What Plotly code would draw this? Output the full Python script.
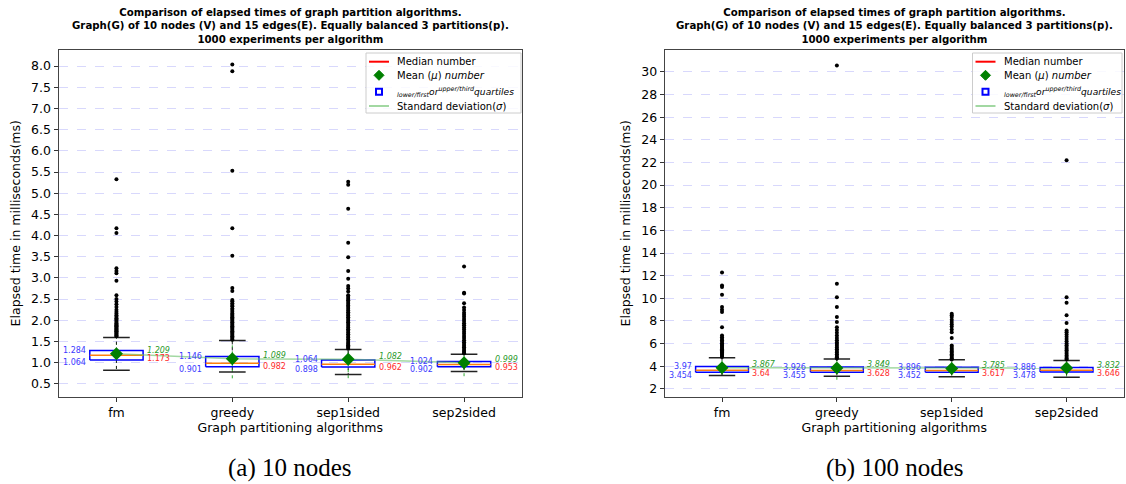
import plotly.graph_objects as go

algorithms = ["fm", "greedy", "sep1sided", "sep2sided"]
positions = [1, 2, 3, 4]

# ---------------- 10 nodes ----------------
q1_10 = [1.064, 0.901, 0.898, 0.902]
med_10 = [1.173, 0.982, 0.962, 0.953]
q3_10 = [1.284, 1.146, 1.064, 1.024]
mean_10 = [1.209, 1.089, 1.082, 0.999]
std_10 = [0.36, 0.46, 0.45, 0.32]
wlo_10 = [0.82, 0.78, 0.72, 0.79]
whi_10 = [1.59, 1.52, 1.31, 1.20]
out_fm_10 = [5.33, 4.17, 4.06, 3.23, 3.16, 3.11, 2.93, 2.59, 2.50, 2.44, 2.38, 2.31, 2.25,
             2.20, 2.16, 2.12, 2.08, 2.05, 2.02, 1.99, 1.96, 1.93, 1.90, 1.88, 1.86, 1.84,
             1.82, 1.80, 1.78, 1.76, 1.74, 1.72, 1.70, 1.68, 1.66, 1.64, 1.62]
out_greedy_10 = [8.04, 7.88, 5.53, 4.17, 3.52, 2.76, 2.69, 2.48, 2.45, 2.40, 2.36, 2.33,
                 2.28, 2.24, 2.20, 2.16, 2.13, 2.10, 2.07, 2.04, 2.01, 1.98, 1.95, 1.92,
                 1.89, 1.86, 1.83, 1.80, 1.77, 1.74, 1.71, 1.68, 1.65, 1.62, 1.59, 1.56, 1.54]
out_sep1_10 = [5.27, 5.20, 4.63, 3.83, 3.49, 3.16, 2.98, 2.81, 2.75, 2.68, 2.59, 2.55, 2.51,
               2.47, 2.43, 2.39, 2.35, 2.31, 2.27, 2.23, 2.19, 2.15, 2.11, 2.07, 2.03, 1.99,
               1.95, 1.91, 1.87, 1.83, 1.79, 1.75, 1.71, 1.67, 1.63, 1.59, 1.55, 1.51, 1.47,
               1.44, 1.41, 1.38, 1.35, 1.33]
out_sep2_10 = [3.27, 2.65, 2.63, 2.40, 2.30, 2.24, 2.18, 2.13, 2.08, 2.03, 1.98, 1.93, 1.88,
               1.83, 1.78, 1.73, 1.68, 1.63, 1.58, 1.53, 1.48, 1.44, 1.40, 1.36, 1.32, 1.28,
               1.25, 1.22]
outliers_10 = [out_fm_10, out_greedy_10, out_sep1_10, out_sep2_10]

# ---------------- 100 nodes ----------------
q1_100 = [3.454, 3.455, 3.452, 3.478]
med_100 = [3.64, 3.628, 3.617, 3.646]
q3_100 = [3.97, 3.926, 3.896, 3.886]
mean_100 = [3.867, 3.849, 3.785, 3.832]
std_100 = [0.65, 1.05, 0.6, 0.75]
wlo_100 = [3.18, 3.12, 3.06, 3.03]
whi_100 = [4.75, 4.63, 4.56, 4.50]
out_fm_100 = [12.27, 11.14, 10.99, 10.32, 9.22, 8.99, 8.78, 7.45, 6.72, 6.55, 6.40, 6.28,
              6.15, 6.02, 5.90, 5.80, 5.70, 5.60, 5.50, 5.40, 5.30, 5.20, 5.10, 5.00, 4.90, 4.80]
out_greedy_100 = [30.58, 11.29, 10.10, 9.22, 8.34, 7.90, 7.45, 7.20, 6.95, 6.70, 6.50, 6.30,
                  6.10, 5.95, 5.80, 5.65, 5.50, 5.35, 5.20, 5.05, 4.90, 4.78, 4.68]
out_sep1_100 = [8.64, 8.50, 8.34, 8.10, 7.90, 7.70, 7.51, 7.25, 7.00, 6.48, 5.83, 5.70, 5.55,
                5.42, 5.30, 5.18, 5.06, 4.94, 4.82, 4.70, 4.60]
out_sep2_100 = [22.2, 10.10, 9.60, 8.49, 7.81, 7.16, 7.00, 6.80, 6.60, 6.40, 6.20, 6.00, 5.85,
                5.70, 5.55, 5.40, 5.25, 5.10, 4.95, 4.80, 4.68, 4.58]
outliers_100 = [out_fm_100, out_greedy_100, out_sep1_100, out_sep2_100]

title_text = ("<b>Comparison of elapsed times of graph partition algorithms.<br>"
              "Graph(G) of 10 nodes (V) and 15 edges(E). Equally balanced 3 partitions(p).<br>"
              "1000 experiments per algorithm</b>")
captions = ["(a) 10 nodes", "(b) 100 nodes"]
legend_labels = ["Median number",
                 "Mean (<i>μ</i>) <i>number</i>",
                 "<sub><i>lower/first</i></sub><i>or</i><sup><i>upper/third</i></sup><i>quartiles</i>",
                 "Standard deviation(<i>σ</i>)"]
legend_sizes = [10, 10, 9.1, 10]

BOX_W = 0.46
FONT = "DejaVu Sans"
BLUE = "#0000ff"
ORANGE = "#ff7f0e"
GREEN = "#008000"
LGREEN = "rgba(100,190,100,0.6)"

W, H = 1126, 484
dom_x = [[58.5 / W, 522 / W], [664.6 / W, 1124 / W]]
dom_y = [1 - 396.5 / H, 1 - 50 / H]

fig = go.Figure()
annotations = []
shapes = []


def px(x):
    return x / W


def py(y):
    return 1 - y / H


def seg_xy(xs0, xs1, ys0, ys1):
    X, Y = [], []
    for a, b, c, d in zip(xs0, xs1, ys0, ys1):
        X += [a, b, None]
        Y += [c, d, None]
    return X, Y


def draw(k, q1, med, q3, mean, std, wlo, whi, outs):
    xa = "x" if k == 0 else "x2"
    ya = "y" if k == 0 else "y2"
    common = dict(xaxis=xa, yaxis=ya, showlegend=False, hoverinfo="skip")
    hw = BOX_W / 2
    cw = BOX_W / 4
    # std dotted green vertical
    X, Y = seg_xy(positions, positions, [m - s for m, s in zip(mean, std)],
                  [m + s for m, s in zip(mean, std)])
    fig.add_trace(go.Scatter(x=X, y=Y, mode="lines",
                             line=dict(color="rgba(0,150,0,0.8)", width=1, dash="dot"), **common))
    # whiskers
    X1, Y1 = seg_xy(positions, positions, q3, whi)
    X2, Y2 = seg_xy(positions, positions, q1, wlo)
    fig.add_trace(go.Scatter(x=X1 + X2, y=Y1 + Y2, mode="lines",
                             line=dict(color="#222222", width=1, dash="dot"), **common))
    # caps
    X1, Y1 = seg_xy([p - cw for p in positions], [p + cw for p in positions], whi, whi)
    X2, Y2 = seg_xy([p - cw for p in positions], [p + cw for p in positions], wlo, wlo)
    fig.add_trace(go.Scatter(x=X1 + X2, y=Y1 + Y2, mode="lines",
                             line=dict(color="#222222", width=1.5), **common))
    # boxes
    X, Y = [], []
    for p, a, b in zip(positions, q1, q3):
        X += [p - hw, p + hw, p + hw, p - hw, p - hw, None]
        Y += [a, a, b, b, a, None]
    fig.add_trace(go.Scatter(x=X, y=Y, mode="lines", line=dict(color=BLUE, width=1.5), **common))
    # medians
    X, Y = seg_xy([p - hw for p in positions], [p + hw for p in positions], med, med)
    fig.add_trace(go.Scatter(x=X, y=Y, mode="lines", line=dict(color=ORANGE, width=1.5), **common))
    # mean line
    fig.add_trace(go.Scatter(x=positions, y=mean, mode="lines", line=dict(color=LGREEN, width=1.5),
                             **common))
    # means
    fig.add_trace(go.Scatter(x=positions, y=mean, mode="markers",
                             marker=dict(symbol="diamond", color=GREEN, size=10), **common))
    # outliers
    OX, OY = [], []
    for p, o in zip(positions, outs):
        OX += [p] * len(o)
        OY += o
    fig.add_trace(go.Scatter(x=OX, y=OY, mode="markers",
                             marker=dict(color="black", size=4), **common))
    # value labels
    base = dict(xref=xa, yref=ya, showarrow=False)
    for p, a, m, b, mu in zip(positions, q1, med, q3, mean):
        annotations.append(dict(base, x=p - hw, y=b, text=str(b), xanchor="right", xshift=-2,
                                font=dict(family=FONT, size=8, color="#3a3aff")))
        annotations.append(dict(base, x=p - hw, y=a, text=str(a), xanchor="right", xshift=-2,
                                yshift=-3, font=dict(family=FONT, size=8, color="#3a3aff")))
        annotations.append(dict(base, x=p + hw, y=mu, text="<i>" + str(mu) + "</i>",
                                xanchor="left", xshift=2, yshift=3,
                                font=dict(family=FONT, size=8, color="#2a9a2a")))
        annotations.append(dict(base, x=p + hw, y=m, text=str(m), xanchor="left", xshift=2,
                                yshift=-3, font=dict(family=FONT, size=8, color="#ff2a2a")))


def legend_box(L, R, T, B):
    shapes.append(dict(type="rect", xref="paper", yref="paper", x0=px(L), x1=px(R), y0=py(B),
                       y1=py(T), line=dict(color="#cccccc", width=1),
                       fillcolor="rgba(255,255,255,0.85)", layer="above"))
    rows = [T + 8.7, T + 22.3, T + 38.7, T + 53]
    # median sample
    shapes.append(dict(type="line", xref="paper", yref="paper", x0=px(L + 3), x1=px(L + 23),
                       y0=py(rows[0]), y1=py(rows[0]), line=dict(color="red", width=2),
                       layer="above"))
    # mean diamond sample
    cx, cy = L + 13, rows[1]
    path = "M {},{} L {},{} L {},{} L {},{} Z".format(px(cx), py(cy - 5), px(cx + 5), py(cy),
                                                      px(cx), py(cy + 5), px(cx - 5), py(cy))
    shapes.append(dict(type="path", xref="paper", yref="paper", path=path, fillcolor=GREEN,
                       line=dict(color=GREEN, width=1), layer="above"))
    # quartile square sample
    cy = rows[2]
    shapes.append(dict(type="rect", xref="paper", yref="paper", x0=px(cx - 3), x1=px(cx + 3),
                       y0=py(cy + 3), y1=py(cy - 3), line=dict(color=BLUE, width=2),
                       fillcolor="white", layer="above"))
    # std sample
    shapes.append(dict(type="line", xref="paper", yref="paper", x0=px(L + 3), x1=px(L + 23),
                       y0=py(rows[3]), y1=py(rows[3]), line=dict(color=LGREEN, width=2),
                       layer="above"))
    for r, lab, sz in zip(rows, legend_labels, legend_sizes):
        annotations.append(dict(xref="paper", yref="paper", x=px(L + 29), y=py(r),
                                xanchor="left", yanchor="middle", text=lab, showarrow=False,
                                font=dict(family=FONT, size=sz, color="black")))


draw(0, q1_10, med_10, q3_10, mean_10, std_10, wlo_10, whi_10, outliers_10)
draw(1, q1_100, med_100, q3_100, mean_100, std_100, wlo_100, whi_100, outliers_100)

legend_box(366, 521, 53, 113)
legend_box(972.5, 1122, 53, 113)

for k in range(2):
    cx = (dom_x[k][0] + dom_x[k][1]) / 2
    annotations.append(dict(xref="paper", yref="paper", x=cx, y=py(5), xanchor="center",
                            yanchor="top", text=title_text, showarrow=False, align="center",
                            font=dict(family=FONT, size=10.2, color="black")))
    annotations.append(dict(xref="paper", yref="paper", x=cx, y=py(468), xanchor="center",
                            yanchor="middle", text=captions[k], showarrow=False,
                            font=dict(family="Liberation Serif", size=25, color="black")))

axis_common = dict(showline=True, mirror=True, linecolor="#444444", linewidth=1,
                   ticks="outside", ticklen=4, tickcolor="#333333",
                   tickfont=dict(family=FONT, size=12.5, color="black"), zeroline=False)

xaxis_base = dict(axis_common, range=[0.5, 4.5], tickmode="array", tickvals=positions,
                  ticktext=algorithms, showgrid=False,
                  title=dict(text="Graph partitioning algorithms", standoff=4,
                             font=dict(family=FONT, size=12.5, color="black")))
yaxis_base = dict(axis_common, showgrid=True, gridcolor="rgba(190,190,250,0.6)", griddash="dash",
                  gridwidth=1,
                  title=dict(text="Elapsed time in milliseconds(ms)", standoff=7,
                             font=dict(family=FONT, size=12.5, color="black")))

fig.update_layout(
    width=W, height=H, margin=dict(l=0, r=0, t=0, b=0),
    paper_bgcolor="white", plot_bgcolor="white",
    xaxis=dict(xaxis_base, domain=dom_x[0], anchor="y"),
    yaxis=dict(yaxis_base, domain=dom_y, anchor="x", range=[0.2, 8.38], dtick=0.5, tick0=0.5,
               tickformat=".1f"),
    xaxis2=dict(xaxis_base, domain=dom_x[1], anchor="y2"),
    yaxis2=dict(yaxis_base, domain=dom_y, anchor="x2", range=[1.32, 31.94], dtick=2, tick0=2),
    annotations=annotations,
    shapes=shapes,
    showlegend=False,
)

fig.write_html("out.html", config={"displayModeBar": False},
               post_script="document.body.style.margin='0px';")
